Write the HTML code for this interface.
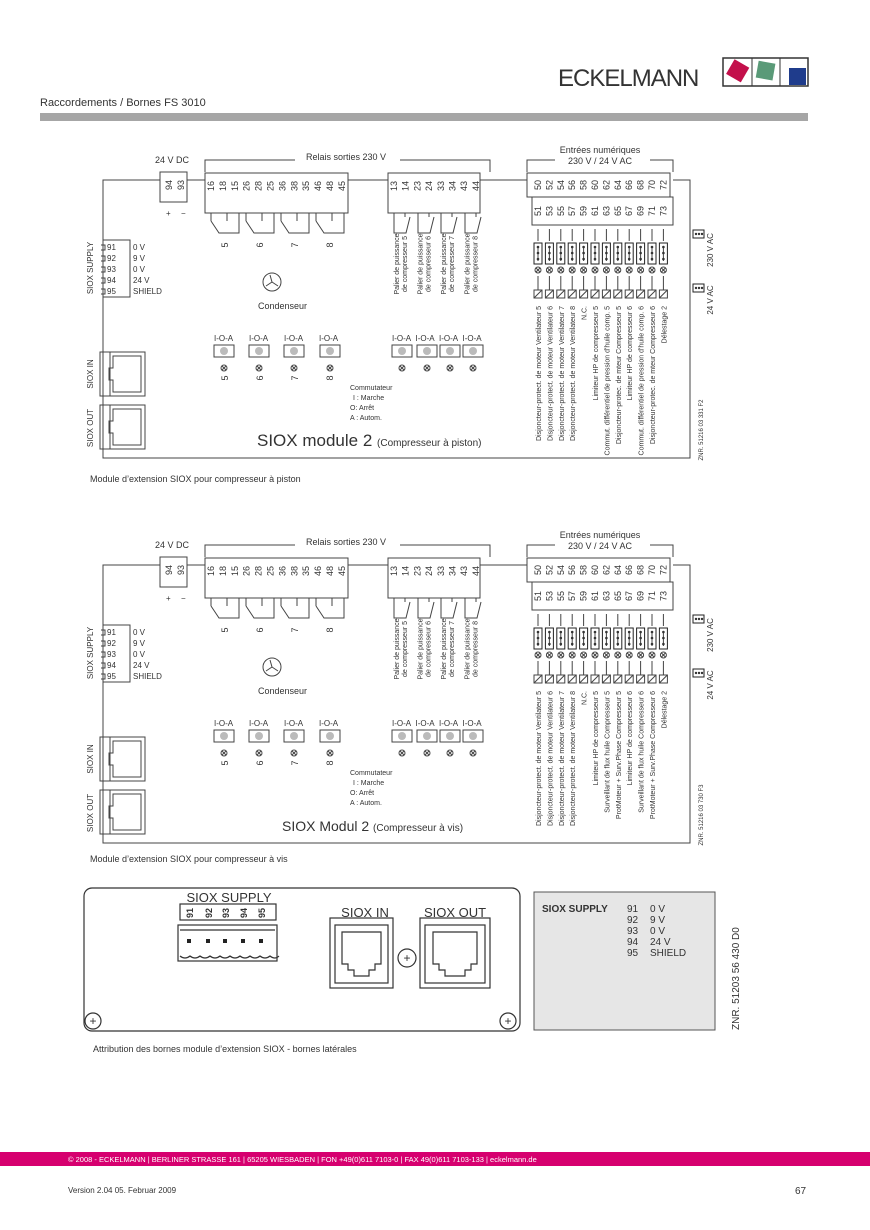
<!DOCTYPE html>
<html><head><meta charset="utf-8"><style>
body{margin:0;background:#fff}
svg{display:block}
text{font-family:"Liberation Sans",sans-serif;fill:#333}
</style></head><body>
<svg id="s" width="870" height="1230" viewBox="0 0 870 1230" xmlns="http://www.w3.org/2000/svg">
<text x="558" y="86" font-size="24" fill="#222" style="letter-spacing:-1px">ECKELMANN</text>
<rect x="723" y="58" width="85" height="28" fill="none" stroke="#333" stroke-width="1.5"/>
<line x1="752" y1="58" x2="752" y2="86" stroke="#333"/><line x1="780" y1="58" x2="780" y2="86" stroke="#333"/>
<rect x="729" y="62" width="17" height="17" fill="#c3104b" transform="rotate(30 737 71)"/>
<rect x="757" y="62" width="17" height="17" fill="#5a9a78" transform="rotate(10 765 71)"/>
<rect x="789" y="68" width="17" height="17" fill="#1f3c8c"/>
<text x="40" y="106" font-size="11" fill="#000">Raccordements / Bornes FS 3010</text>
<rect x="40" y="113" width="768" height="8" fill="#a6a6a6"/>
<g id="d1"></g><g id="d2"></g>
<text x="90" y="482" font-size="9" fill="#000">Module d’extension SIOX pour compresseur à piston</text>
<text x="90" y="862" font-size="9" fill="#000">Module d’extension SIOX pour compresseur à vis</text>
<g stroke="#333" fill="none" stroke-width="1.2">
<rect x="84" y="888" width="436" height="143" rx="8"/>
<rect x="180" y="904" width="96" height="16"/>
<rect x="178" y="925" width="99" height="36"/>
<line x1="180" y1="930" x2="275" y2="930"/>
<path d="M180 956 q5 4 10 0 q5 4 10 0 q5 4 10 0 q5 4 10 0 q5 4 10 0 q5 4 10 0 q5 4 10 0 q5 4 10 0 q5 4 10 0 q5 4 9 0"/>
<rect x="330" y="918" width="63" height="70"/><rect x="335" y="925" width="53" height="58"/>
<path d="M342 932 h39 v32 h-6 v6 h-6 v6 h-15 v-6 h-6 v-6 h-6z"/>
<rect x="420" y="918" width="70" height="70"/><rect x="425" y="925" width="60" height="58"/>
<path d="M433 932 h44 v32 h-6 v6 h-6 v6 h-20 v-6 h-6 v-6 h-6z"/>
<circle cx="407" cy="958" r="9"/><circle cx="93" cy="1021" r="8"/><circle cx="508" cy="1021" r="8"/>
</g>
<g font-size="12" fill="#222" text-anchor="middle"><text x="407" y="962">+</text><text x="93" y="1025">+</text><text x="508" y="1025">+</text></g>
<g fill="#222"><rect x="187" y="939" width="4" height="4"/><rect x="206" y="939" width="4" height="4"/><rect x="223" y="939" width="4" height="4"/><rect x="241" y="939" width="4" height="4"/><rect x="259" y="939" width="4" height="4"/></g>
<text x="229" y="902" font-size="13" text-anchor="middle" fill="#222">SIOX SUPPLY</text>
<g font-size="9" font-weight="bold" fill="#222">
<text transform="translate(193 918) rotate(-90)">91</text><text transform="translate(212 918) rotate(-90)">92</text><text transform="translate(229 918) rotate(-90)">93</text><text transform="translate(247 918) rotate(-90)">94</text><text transform="translate(265 918) rotate(-90)">95</text></g>
<text x="365" y="917" font-size="13" text-anchor="middle" fill="#222">SIOX IN</text>
<text x="455" y="917" font-size="13" text-anchor="middle" fill="#222">SIOX OUT</text>
<rect x="534" y="892" width="181" height="138" fill="#e6e6e6" stroke="#555"/>
<text x="542" y="912" font-size="10" font-weight="bold" fill="#222">SIOX SUPPLY</text>
<g font-size="10" fill="#222"><text x="627" y="912">91</text><text x="650" y="912">0 V</text><text x="627" y="923">92</text><text x="650" y="923">9 V</text><text x="627" y="934">93</text><text x="650" y="934">0 V</text><text x="627" y="945">94</text><text x="650" y="945">24 V</text><text x="627" y="956">95</text><text x="650" y="956">SHIELD</text></g>
<text transform="translate(739 1030) rotate(-90)" font-size="10" fill="#222">ZNR. 51203 56 430 D0</text>
<text x="93" y="1052" font-size="9" fill="#000">Attribution des bornes module d’extension SIOX - bornes latérales</text>
<rect x="0" y="1152" width="870" height="14" fill="#d6006f"/>
<text x="68" y="1162" font-size="7.5" style="fill:#fff">© 2008 - ECKELMANN | BERLINER STRASSE 161 | 65205 WIESBADEN | FON +49(0)611 7103-0 | FAX 49(0)611 7103-133 | eckelmann.de</text>
<text x="68" y="1193" font-size="8" fill="#000">Version 2.04   05. Februar 2009</text>
<text x="795" y="1194" font-size="10" fill="#000">67</text>
</svg>
<script>
function diag(oy,v){
 let s='';const L=(a,b,c,d)=>s+=`<line x1="${a}" y1="${b+oy}" x2="${c}" y2="${d+oy}"/>`;
 const T=(x,y,t,fs,extra)=>s+=`<text x="${x}" y="${y+oy}" font-size="${fs}" ${extra||''}>${t}</text>`;
 const R=(x,y,t,fs,anc)=>s+=`<text transform="translate(${x} ${y+oy}) rotate(-90)" font-size="${fs}" text-anchor="${anc||'middle'}">${t}</text>`;
 s+='<g stroke="#444" fill="none" stroke-width="1">';
 s+=`<path d="M160 ${180+oy} H103 V${458+oy} H690 V${180+oy} H673"/>`;
 L(187,180,205,180);L(480,180,527,180);L(348,180,388,180);
 s+=`<rect x="160" y="${172+oy}" width="27" height="30"/>`;
 s+=`<rect x="205" y="${173+oy}" width="143" height="40"/><rect x="388" y="${173+oy}" width="92" height="40"/>`;
 s+=`<rect x="527" y="${173+oy}" width="143" height="24"/><rect x="532" y="${197+oy}" width="141" height="28"/>`;
 s+=`<path d="M205 ${172+oy} V${160+oy} H295 M400 ${160+oy} H490 V${172+oy}"/>`;
 s+=`<path d="M527 ${172+oy} V${160+oy} H555 M650 ${160+oy} H673 V${172+oy}"/>`;
 [211,246,281,316].forEach(x=>{s+=`<path d="M${x} ${213+oy} v8 M${x} ${221+oy} l8 12 h20 v-20 M${x+16} ${213+oy} v8"/>`;});
 [394,418,441,465].forEach(x=>{s+=`<path d="M${x} ${213+oy} v20 h12 l4 -16 M${x+11} ${213+oy} v4"/>`;});
 s+=`<rect x="103" y="${240+oy}" width="27" height="57"/>`;
 [0,1,2,3,4].forEach(i=>s+=`<path d="M101 ${245+i*11+oy} h4 v5 h-4"/>`);
 s+=`<circle cx="272" cy="${282+oy}" r="9"/><path d="M272 ${282+oy} l-2 -7 M272 ${282+oy} l6 4 M272 ${282+oy} l-6 4"/>`;
 [224,259,294,330,402,427,450,473].forEach(x=>{s+=`<rect x="${x-10}" y="${345+oy}" width="20" height="12"/><circle cx="${x}" cy="${351+oy}" r="4" fill="#bbb" stroke="none"/><circle cx="${x}" cy="${368+oy}" r="3"/><path d="M${x-2} ${366+oy} l4 4 M${x+2} ${366+oy} l-4 4"/>`;});
 [352,405].forEach(y=>{s+=`<rect x="100" y="${y+oy}" width="45" height="44"/><rect x="110" y="${y+oy}" width="35" height="44"/><path d="M113 ${y+4+oy} h28 v36 h-28 v-12 h-4 v-12 h4z"/>`;});
 for(let i=0;i<12;i++){const x=538+i*11.4;
  s+=`<line x1="${x}" y1="${229+oy}" x2="${x}" y2="${241+oy}"/><rect x="${x-4}" y="${243+oy}" width="8" height="21" stroke="#222"/><line x1="${x}" y1="${246+oy}" x2="${x}" y2="${261+oy}"/><circle cx="${x}" cy="${270+oy}" r="3"/><path d="M${x-2} ${268+oy} l4 4 M${x+2} ${268+oy} l-4 4"/><line x1="${x}" y1="${276+oy}" x2="${x}" y2="${290+oy}"/><rect x="${x-4}" y="${290+oy}" width="8" height="8"/><line x1="${x-4}" y1="${298+oy}" x2="${x+4}" y2="${290+oy}"/>`;}
 s+=`<rect x="693" y="${230+oy}" width="11" height="8" stroke="#222"/><rect x="693" y="${284+oy}" width="11" height="8" stroke="#222"/>`;
 s+='</g><g fill="#333">';
 for(let i=0;i<12;i++){const x=538+i*11.4;[247,253,259].forEach(y=>s+=`<circle cx="${x}" cy="${y+oy}" r="1.3"/>`);}
 [696,699,702].forEach(x=>{s+=`<circle cx="${x}" cy="${234+oy}" r="1.2"/><circle cx="${x}" cy="${288+oy}" r="1.2"/>`;});
 s+='</g><g fill="#333">';
 T(155,163,'24 V DC',9);T(306,160,'Relais sorties 230 V',9);
 T(600,153,'Entrées numériques',9,'text-anchor="middle"');T(600,164,'230 V / 24 V AC',9,'text-anchor="middle"');
 R(172,185,'94',9);R(184,185,'93',9);T(166,216,'+',8);T(181,216,'−',8);
 ['16','18','15','26','28','25','36','38','35','46','48','45'].forEach((t,i)=>R(214+i*11.9,186,t,9));
 ['13','14','23','24','33','34','43','44'].forEach((t,i)=>R(397+i*11.7,186,t,9));
 for(let i=0;i<12;i++){R(541+i*11.4,185,50+2*i,9);R(541+i*11.4,211,51+2*i,9);}
 ['5','6','7','8'].forEach((t,i)=>{R(228+i*35,245,t,9);R(228+i*35,378,t,9);T(214+i*35,341,'I-O-A',8);});
 [0,1,2,3].forEach(i=>T(392+i*23.5,341,'I-O-A',8));
 [5,6,7,8].forEach((n,i)=>{R(399+i*23.5,264,'Palier de puissance',7);R(407+i*23.5,264,'de compresseur '+n,7);});
 T(258,309,'Condenseur',9);
 const sv=['0 V','9 V','0 V','24 V','SHIELD'];
 [91,92,93,94,95].forEach((n,i)=>{T(107,250+i*11,n,8);T(133,250+i*11,sv[i],8);});
 R(93,268,'SIOX SUPPLY',8);R(93,374,'SIOX IN',8);R(93,428,'SIOX OUT',8);
 T(350,390,'Commutateur',7);T(353,400,'I : Marche',7);T(350,410,'O: Arrêt',7);T(350,420,'A : Autom.',7);
 if(v==1){T(257,446,'SIOX module 2 <tspan font-size="10">(Compresseur à piston)</tspan>',17);}
 else{T(282,446,'SIOX Modul 2 <tspan font-size="10">(Compresseur à vis)</tspan>',14);}
 const l1=['Disjoncteur-protect. de moteur Ventilateur 5','Disjoncteur-protect. de moteur Ventilateur 6','Disjoncteur-protect. de moteur Ventilateur 7','Disjoncteur-protect. de moteur Ventilateur 8','N.C.','Limiteur HP de compresseur 5','Commut. différentiel de pression d\'huile comp. 5','Disjoncteur-protec. de mteur Compresseur 5','Limiteur HP de compresseur 6','Commut. différentiel de pression d\'huile comp. 6','Disjoncteur-protec. de mteur Compresseur 6','Délestage 2'];
 const l2=['Disjoncteur-protect. de moteur Ventilateur 5','Disjoncteur-protect. de moteur Ventilateur 6','Disjoncteur-protect. de moteur Ventilateur 7','Disjoncteur-protect. de moteur Ventilateur 8','N.C.','Limiteur HP de compresseur 5','Surveillant de flux huile Compresseur 5','ProtMoteur + Surv.Phase Compresseur 5','Limiteur HP de compresseur 6','Surveillant de flux huile Compresseur 6','ProtMoteur + Surv.Phase Compresseur 6','Délestage 2'];
 (v==1?l1:l2).forEach((t,i)=>R(541+i*11.4,306,t,7,'end'));
 R(713,250,'230 V AC',8);R(713,300,'24 V AC',8);
 R(703,430,v==1?'ZNR. 51216 03 331 F2':'ZNR. 51216 03 730 F3',6);
 s+='</g>';return s;}
document.getElementById('d1').innerHTML=diag(0,1);
document.getElementById('d2').innerHTML=diag(385,2);
</script>
</body></html>
